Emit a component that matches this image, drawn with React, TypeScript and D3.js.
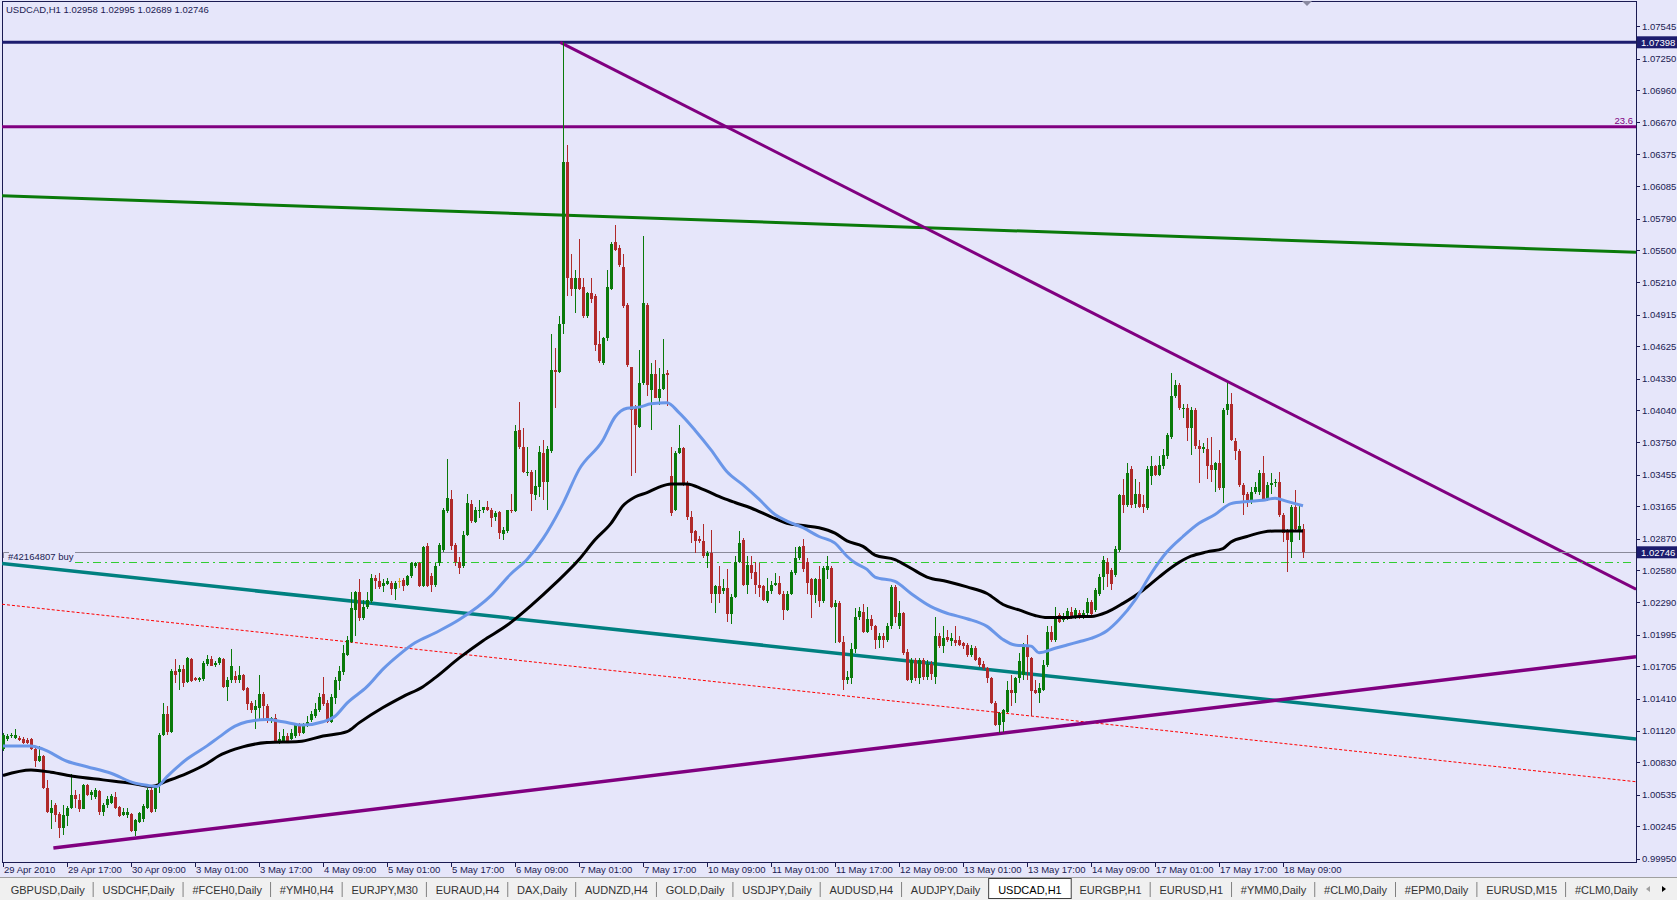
import React, { useMemo } from 'react';
import * as d3 from 'd3';

// ---------------- DATA ----------------
const headerText = 'USDCAD,H1  1.02958 1.02995 1.02689 1.02746';

// Hourly candles, [open, high, low, close] in pips (price * 10000)
const candles: number[][] = [
  [10095,10110,10093,10108],[10104,10109,10102,10107],[10107,10110,10105,10108],[10105,10113,10104,10108],
  [10105,10107,10102,10103],[10104,10106,10100,10101],[10103,10105,10100,10101],[10104,10105,10094,10095],
  [10095,10096,10079,10084],[10084,10098,10083,10089],[10089,10090,10059,10060],[10060,10067,10037,10038],
  [10037,10049,10022,10041],[10044,10046,10029,10035],[10036,10038,10014,10023],[10023,10044,10017,10035],
  [10034,10043,10025,10041],[10041,10072,10040,10053],[10053,10058,10041,10050],[10049,10054,10038,10040],
  [10040,10063,10040,10062],[10062,10063,10052,10053],[10053,10058,10049,10056],[10051,10060,10050,10058],
  [10057,10058,10035,10038],[10038,10046,10034,10044],[10044,10052,10041,10050],[10046,10054,10045,10052],
  [10051,10056,10040,10041],[10042,10043,10033,10034],[10035,10041,10034,10038],[10035,10041,10032,10038],
  [10036,10037,10019,10020],[10020,10031,10016,10030],[10029,10038,10028,10037],[10031,10045,10029,10043],
  [10041,10060,10040,10058],[10058,10061,10037,10038],[10040,10062,10038,10061],[10061,10110,10055,10108],
  [10108,10137,10107,10127],[10127,10134,10108,10111],[10111,10168,10110,10166],[10166,10177,10155,10163],
  [10165,10172,10149,10168],[10168,10172,10152,10155],[10156,10179,10155,10178],[10177,10178,10156,10157],
  [10160,10161,10157,10158],[10158,10161,10156,10160],[10159,10175,10157,10174],[10173,10181,10171,10177],
  [10177,10180,10171,10171],[10172,10175,10170,10174],[10174,10179,10172,10178],[10177,10178,10151,10152],
  [10152,10161,10139,10158],[10158,10186,10155,10171],[10162,10166,10155,10158],[10158,10171,10155,10163],
  [10163,10164,10148,10149],[10151,10152,10131,10136],[10137,10139,10128,10131],[10131,10140,10113,10134],
  [10133,10163,10122,10145],[10145,10147,10122,10134],[10134,10136,10119,10121],[10121,10124,10119,10123],
  [10123,10127,10101,10102],[10101,10111,10100,10104],[10102,10113,10101,10107],[10107,10110,10101,10102],
  [10104,10113,10103,10110],[10107,10119,10105,10117],[10117,10119,10107,10110],[10110,10119,10109,10117],
  [10117,10125,10115,10120],[10122,10130,10120,10127],[10125,10137,10123,10132],[10131,10146,10129,10143],
  [10145,10161,10134,10136],[10137,10140,10119,10120],[10120,10145,10119,10143],[10142,10161,10136,10158],
  [10157,10171,10149,10166],[10165,10190,10163,10183],[10181,10198,10180,10195],[10193,10238,10192,10224],
  [10222,10239,10198,10238],[10238,10250,10212,10215],[10215,10231,10213,10225],[10225,10238,10223,10231],
  [10230,10255,10228,10251],[10251,10254,10241,10248],[10248,10256,10241,10243],[10244,10250,10238,10247],
  [10246,10251,10245,10248],[10247,10248,10236,10241],[10241,10248,10231,10247],[10248,10251,10242,10248],
  [10249,10251,10239,10244],[10245,10254,10244,10253],[10253,10266,10251,10265],[10262,10266,10260,10265],
  [10265,10266,10243,10244],[10244,10280,10243,10279],[10280,10283,10243,10244],[10253,10256,10238,10245],
  [10245,10265,10243,10262],[10265,10283,10262,10281],[10277,10315,10275,10313],[10312,10360,10310,10324],
  [10323,10331,10277,10280],[10281,10283,10262,10266],[10266,10270,10255,10260],[10262,10294,10260,10290],
  [10290,10328,10289,10320],[10319,10322,10301,10303],[10302,10316,10301,10313],[10312,10322,10306,10313],
  [10313,10316,10310,10316],[10316,10321,10312,10313],[10313,10315,10298,10306],[10307,10312,10303,10310],
  [10311,10312,10287,10292],[10291,10298,10286,10295],[10294,10313,10292,10313],[10313,10328,10310,10312],
  [10312,10391,10311,10385],[10386,10412,10369,10371],[10371,10388,10347,10348],[10347,10371,10344,10348],
  [10348,10350,10312,10328],[10327,10350,10322,10335],[10334,10372,10325,10366],[10365,10377,10322,10339],
  [10339,10372,10313,10369],[10367,10474,10365,10441],[10441,10461,10406,10439],[10439,10490,10438,10483],
  [10483,10740,10474,10631],[10631,10646,10508,10525],[10525,10547,10508,10515],[10515,10532,10493,10525],
  [10525,10560,10514,10515],[10517,10525,10488,10490],[10490,10512,10488,10511],[10511,10525,10502,10506],
  [10508,10510,10458,10464],[10465,10476,10447,10449],[10447,10471,10445,10470],[10470,10532,10467,10517],
  [10515,10558,10514,10556],[10558,10573,10549,10550],[10552,10555,10535,10537],[10535,10547,10497,10499],
  [10500,10502,10444,10445],[10444,10444,10344,10404],[10406,10409,10347,10391],[10389,10459,10388,10429],
  [10429,10563,10427,10502],[10500,10502,10417,10427],[10423,10447,10386,10437],[10437,10450,10415,10415],
  [10415,10443,10409,10424],[10424,10469,10423,10437],[10438,10441,10408,10436],[10344,10371,10308,10310],
  [10313,10367,10312,10365],[10365,10391,10364,10370],[10370,10371,10335,10338],[10338,10340,10304,10307],
  [10307,10312,10283,10292],[10294,10295,10274,10285],[10287,10289,10283,10285],[10285,10300,10269,10271],
  [10271,10276,10260,10274],[10274,10295,10228,10237],[10237,10245,10219,10244],[10244,10262,10228,10237],
  [10239,10250,10237,10242],[10242,10259,10211,10218],[10218,10237,10209,10234],[10234,10271,10233,10266],
  [10266,10294,10265,10283],[10286,10288,10244,10245],[10245,10271,10237,10263],[10263,10271,10250,10256],
  [10257,10266,10237,10245],[10245,10265,10234,10242],[10244,10245,10230,10231],[10230,10251,10228,10239],
  [10239,10248,10237,10245],[10245,10256,10244,10247],[10247,10253,10236,10237],[10237,10239,10213,10222],
  [10222,10239,10221,10237],[10237,10258,10236,10257],[10256,10279,10254,10269],[10269,10280,10268,10279],
  [10280,10287,10257,10259],[10266,10269,10237,10247],[10250,10251,10215,10236],[10236,10251,10228,10250],
  [10250,10262,10225,10230],[10230,10262,10228,10260],[10258,10271,10250,10262],[10260,10262,10224,10225],
  [10225,10231,10192,10228],[10228,10230,10192,10193],[10193,10198,10149,10158],[10158,10166,10154,10161],
  [10160,10192,10154,10186],[10186,10224,10183,10216],[10216,10225,10213,10221],[10220,10227,10201,10202],
  [10202,10225,10201,10214],[10214,10217,10204,10207],[10207,10208,10186,10195],[10195,10201,10187,10198],
  [10198,10201,10187,10195],[10195,10210,10193,10207],[10207,10245,10205,10243],[10243,10245,10210,10216],
  [10207,10230,10205,10219],[10219,10220,10181,10183],[10184,10186,10157,10158],[10158,10178,10155,10176],
  [10176,10178,10157,10160],[10160,10178,10154,10176],[10176,10178,10158,10161],[10161,10176,10158,10173],
  [10173,10175,10158,10164],[10161,10216,10154,10198],[10198,10201,10187,10189],[10189,10207,10183,10196],
  [10197,10204,10193,10195],[10194,10201,10189,10196],[10195,10207,10189,10192],[10195,10198,10189,10190],
  [10192,10193,10186,10189],[10190,10192,10179,10181],[10181,10190,10179,10187],[10187,10189,10175,10176],
  [10178,10179,10170,10172],[10173,10175,10167,10169],[10169,10170,10155,10160],[10160,10161,10136,10137],
  [10137,10139,10116,10117],[10117,10129,10110,10128],[10120,10132,10111,10131],[10129,10157,10128,10149],
  [10149,10163,10134,10146],[10146,10161,10137,10160],[10160,10183,10155,10175],[10163,10192,10158,10189],
  [10189,10199,10158,10179],[10178,10179,10125,10148],[10149,10158,10145,10146],[10146,10155,10137,10151],
  [10149,10176,10148,10172],[10172,10207,10170,10202],[10202,10207,10193,10195],[10195,10225,10193,10216],
  [10217,10219,10210,10211],[10213,10219,10211,10216],[10214,10224,10213,10221],[10220,10225,10214,10216],
  [10216,10224,10214,10222],[10219,10222,10214,10215],[10216,10222,10214,10219],[10219,10233,10216,10229],
  [10229,10231,10216,10218],[10222,10242,10220,10240],[10237,10255,10235,10252],[10252,10271,10240,10268],
  [10266,10269,10243,10255],[10258,10260,10240,10246],[10254,10280,10252,10278],[10277,10328,10275,10327],
  [10327,10341,10310,10318],[10318,10356,10316,10347],[10351,10353,10315,10318],[10319,10341,10315,10328],
  [10328,10339,10315,10316],[10319,10327,10310,10316],[10315,10353,10313,10351],[10344,10362,10336,10353],
  [10353,10354,10344,10345],[10345,10362,10344,10354],[10353,10369,10351,10363],[10362,10383,10360,10382],
  [10380,10438,10378,10417],[10417,10432,10415,10427],[10427,10429,10404,10406],[10405,10410,10397,10406],
  [10406,10410,10376,10388],[10388,10407,10363,10404],[10404,10406,10369,10372],[10372,10377,10338,10369],
  [10369,10374,10365,10371],[10369,10379,10341,10353],[10354,10380,10339,10350],[10350,10357,10330,10356],
  [10356,10368,10331,10333],[10333,10406,10320,10404],[10404,10429,10400,10410],[10410,10420,10376,10377],
  [10376,10379,10359,10367],[10367,10369,10334,10336],[10336,10338,10309,10327],[10328,10330,10316,10322],
  [10322,10334,10319,10330],[10330,10339,10328,10334],[10330,10350,10327,10347],[10347,10362,10322,10322],
  [10322,10339,10321,10336],[10336,10347,10328,10338],[10338,10341,10334,10339],[10339,10348,10307,10309],
  [10309,10310,10284,10292],[10295,10296,10257,10286],[10284,10318,10269,10316],[10316,10331,10295,10296],
  [10294,10318,10286,10299],[10296,10300,10269,10275],
];

// Moving averages: [bar index, pips]
const blueMA: number[][] = [
  [0,10098],[7,10098],[10,10095],[16,10084],[21,10079],[27,10073],[33,10064],[36,10062],[38.5,10061],
  [41,10070],[46,10086],[51,10098],[54,10106],[58,10116],[61,10120],[66,10122],[70,10120],[75,10117],
  [80,10120],[83,10125],[86,10137],[91,10152],[95,10168],[99,10181],[103,10192],[108,10201],[114,10213],
  [122,10235],[127,10255],[131,10268],[135,10287],[140,10319],[144,10350],[150,10377],[153,10398],
  [156,10406],[159,10407],[162,10410],[166,10411],[169,10402],[173,10386],[177,10368],[181,10348],
  [185,10336],[189,10323],[193,10309],[196,10303],[200,10297],[204,10289],[208,10283],[211,10271],
  [213,10265],[216,10259],[218,10252],[223,10248],[227,10237],[232,10225],[236,10219],[241,10214],
  [246,10207],[250,10195],[253,10190],[257,10189],[259,10183],[263,10187],[266,10190],[269,10193],
  [272,10196],[276,10203],[279,10213],[283,10231],[287,10255],[291,10275],[295,10289],[299,10301],
  [303,10309],[307,10319],[311,10321],[315,10322],[318,10324],[321,10321],[325,10317],
];
const blackMA: number[][] = [
  [0,10071],[7,10076],[12,10074],[18,10070],[25,10067],[32,10064],[37,10061],[41,10066],[46,10073],
  [51,10082],[54,10089],[58,10095],[66,10101],[74,10102],[80,10107],[86,10111],[89,10119],[95,10133],
  [100,10143],[105,10152],[108,10160],[114,10178],[120,10194],[126,10208],[132,10226],[138,10246],
  [144,10268],[148,10286],[152,10301],[155,10317],[158,10325],[161,10329],[164,10334],[167,10337],
  [171,10337],[175,10332],[180,10324],[183,10320],[187,10315],[192,10307],[196,10301],[200,10299],
  [204,10297],[208,10292],[211,10285],[215,10280],[218,10272],[223,10268],[227,10260],[231,10252],
  [236,10248],[241,10243],[246,10237],[250,10227],[254,10222],[258,10217],[261,10215],[266,10215],
  [269,10216],[272,10216],[276,10220],[280,10228],[285,10240],[289,10252],[293,10263],[297,10271],
  [301,10275],[305,10278],[307,10284],[311,10289],[315,10293],[318,10294],[322,10294],[325,10294],
];

const timeLabels = [
  '29 Apr 2010','29 Apr 17:00','30 Apr 09:00','3 May 01:00','3 May 17:00','4 May 09:00','5 May 01:00',
  '5 May 17:00','6 May 09:00','7 May 01:00','7 May 17:00','10 May 09:00','11 May 01:00','11 May 17:00',
  '12 May 09:00','13 May 01:00','13 May 17:00','14 May 09:00','17 May 01:00','17 May 17:00','18 May 09:00',
];
const barsPerLabel = 16;

const priceTicks = [
  1.07545,1.0725,1.0696,1.0667,1.06375,1.06085,1.0579,1.055,1.0521,1.04915,1.04625,1.0433,1.0404,
  1.0375,1.03455,1.03165,1.0287,1.0258,1.0229,1.01995,1.01705,1.0141,1.0112,1.0083,1.00535,1.00245,0.9995,
];

const highLevel = 1.07398;
const fiboLevel = 1.06628;
const fiboText = '23.6';
const bidPrice = 1.02746;
const orderPrice = 1.02655;
const orderText = '#42164807 buy';

// trend lines: [bar index start, price start, bar index end, price end]
const greenTrend = [-0.25, 1.05999, 408.25, 1.05482];
const purpleDown = [139.3, 1.07398, 408.25, 1.02409];
const tealTrend = [-0.25, 1.02643, 408.25, 1.01043];
const redDotted = [-0.25, 1.02272, 408.25, 1.00653];
const purpleUp = [12.6, 1.00049, 408.25, 1.01794];

const tabs = [
  'GBPUSD,Daily','USDCHF,Daily','#FCEH0,Daily','#YMH0,H4','EURJPY,M30','EURAUD,H4','DAX,Daily',
  'AUDNZD,H4','GOLD,Daily','USDJPY,Daily','AUDUSD,H4','AUDJPY,Daily','USDCAD,H1','EURGBP,H1',
  'EURUSD,H1','#YMM0,Daily','#CLM0,Daily','#EPM0,Daily','EURUSD,M15','#CLM0,Daily',
];
const activeTab = 'USDCAD,H1';

// ---------------- STYLE ----------------
const W = 1677, H = 900;
const PL = 2, PR = 1636, PT = 1, PB = 862;
const BG = '#E6E6FA';
const FG = '#1B1B52';
const BULL = '#0A7A0A';
const BEAR = '#B02A2A';
const FONT = '"Liberation Sans", Arial, sans-serif';

function measure(text: string, font: string) {
  const c = document.createElement('canvas').getContext('2d')!;
  c.font = font;
  return c.measureText(text).width;
}

export default function App() {
  const x = d3.scaleLinear().domain([0, 408.25]).range([3, 1636]);
  const y = d3.scaleLinear().domain([0.9995, 1.07398]).range([858.8, 42.3]);
  const yp = (pips: number) => y(pips / 10000);

  const maLine = d3.line<number[]>()
    .x(d => x(d[0]))
    .y(d => yp(d[1]))
    .curve(d3.curveMonotoneX);

  const tabLayout = useMemo(() => {
    const font = `11px ${FONT}`;
    let cursor = 10.7;
    return tabs.map(t => {
      const w = measure(t, font);
      const item = { t, x: cursor, w };
      cursor += w + 17.8;
      return item;
    });
  }, []);

  const seg = (l: number[]) => ({ x1: x(l[0]), y1: y(l[1]), x2: x(l[2]), y2: y(l[3]) });

  return (
    <svg width={W} height={H} style={{ position: 'absolute', left: 0, top: 0, background: BG }}
      fontFamily={FONT}>
      <defs>
        <clipPath id="plot">
          <rect x={PL} y={PT} width={PR - PL} height={PB - PT} />
        </clipPath>
      </defs>
      <rect x={0} y={0} width={W} height={H} fill={BG} />

      {/* frame */}
      <rect x={PL + 0.5} y={PT + 0.5} width={PR - PL} height={PB - PT} fill="none" stroke={FG} strokeWidth={1} />

      {/* shift marker */}
      <path d="M1302,1 L1312,1 L1307,6 Z" fill="#8a8aa0" />

      <g clipPath="url(#plot)">
        {/* horizontal levels */}
        <line x1={PL} x2={PR} y1={y(highLevel)} y2={y(highLevel)} stroke="#1C1C6E" strokeWidth={3} />
        <line x1={PL} x2={PR} y1={y(fiboLevel)} y2={y(fiboLevel)} stroke="#800080" strokeWidth={3} />
        <text x={PR - 3} y={y(fiboLevel) - 3} textAnchor="end" fontSize={9.5} fill="#800080">{fiboText}</text>

        {/* trend lines */}
        <line {...seg(greenTrend)} stroke="#0A7A0A" strokeWidth={3} />
        <line {...seg(purpleDown)} stroke="#800080" strokeWidth={3} />
        <line {...seg(tealTrend)} stroke="#008080" strokeWidth={3.5} />
        <line {...seg(redDotted)} stroke="#FF0000" strokeWidth={1} strokeDasharray="3,2" />
        <line {...seg(purpleUp)} stroke="#800080" strokeWidth={3.5} />

        {/* bid and order lines */}
        <line x1={75} x2={PR} y1={Math.round(y(bidPrice)) + 0.5} y2={Math.round(y(bidPrice)) + 0.5} stroke="#8A8A9A" strokeWidth={1} />
        <line x1={75} x2={1632} y1={Math.round(y(orderPrice)) + 0.5} y2={Math.round(y(orderPrice)) + 0.5} stroke="#32CD32" strokeWidth={1} strokeDasharray="8,4,2,4" />
        <path d={`M3.5,${Math.round(y(bidPrice)) + 6} V${Math.round(y(bidPrice)) + 0.5} H9`} fill="none" stroke="#8A8A9A" />
        <text x={8} y={y(bidPrice) + 8} fontSize={9.5} fill={FG}>{orderText}</text>

        {/* candles */}
        <g shapeRendering="crispEdges">
          {candles.map((c, i) => {
            const [o, h, l, cl] = c;
            const cx = Math.round(x(i));
            const color = cl > o ? BULL : cl < o ? BEAR : '#DAA520';
            const top = Math.round(yp(Math.max(o, cl)));
            const bot = Math.round(yp(Math.min(o, cl)));
            return (
              <g key={i}>
                <rect x={cx} y={Math.round(yp(h))} width={1} height={Math.max(1, Math.round(yp(l)) - Math.round(yp(h)))} fill={color} />
                <rect x={cx - 1} y={top} width={3} height={Math.max(1, bot - top)} fill={color} />
              </g>
            );
          })}
        </g>

        {/* moving averages */}
        <path d={maLine(blackMA) || ''} fill="none" stroke="#000000" strokeWidth={3} />
        <path d={maLine(blueMA) || ''} fill="none" stroke="#6A96E8" strokeWidth={3} />
      </g>

      {/* header */}
      <text x={6} y={13} fontSize={9.5} fill={FG}>{headerText}</text>

      {/* price axis */}
      {priceTicks.map(v => (
        <g key={v}>
          <line x1={PR} x2={PR + 4} y1={Math.round(y(v)) + 0.5} y2={Math.round(y(v)) + 0.5} stroke={FG} />
          <text x={PR + 6} y={y(v) + 3.5} fontSize={9.5} fill={FG}>{v.toFixed(5)}</text>
        </g>
      ))}
      {[highLevel, bidPrice].map(v => (
        <g key={'box' + v}>
          <rect x={PR + 1} y={y(v) - 6} width={W - PR - 1} height={12} fill="#1C1C6E" />
          <text x={PR + 5} y={y(v) + 3.5} fontSize={9.5} fill="#FFFFFF">{v.toFixed(5)}</text>
        </g>
      ))}

      {/* time axis */}
      {timeLabels.map((t, k) => {
        const xi = Math.round(x(k * barsPerLabel));
        return (
          <g key={t}>
            <line x1={xi + 0.5} x2={xi + 0.5} y1={PB} y2={PB + 5} stroke={FG} />
            <text x={xi + 1} y={PB + 11} fontSize={9.5} fill={FG}>{t}</text>
          </g>
        );
      })}

      {/* tab bar */}
      <rect x={0} y={877} width={W} height={23} fill="#F0F0F0" />
      <line x1={0} x2={W} y1={877.5} y2={877.5} stroke="#A0A0A0" />
      {tabLayout.map((tb, k) => {
        const active = tb.t === activeTab;
        const nextActive = tabLayout[k + 1] && tabLayout[k + 1].t === activeTab;
        return (
          <g key={k}>
            {active && (
              <rect x={tb.x - 9.5} y={878.5} width={tb.w + 19} height={20} fill="#FFFFFF" stroke="#404040" />
            )}
            <text x={tb.x} y={894} fontSize={11} fill={active ? '#000' : '#333'}>{tb.t}</text>
            {!active && !nextActive && k < tabLayout.length - 1 && (
              <line x1={tb.x + tb.w + 8.5} x2={tb.x + tb.w + 8.5} y1={882} y2={897} stroke="#808080" />
            )}
          </g>
        );
      })}
      <path d="M1650,886 L1646,889 L1650,892 Z" fill="#A0A0A0" />
      <path d="M1662,886 L1666,889 L1662,892 Z" fill="#000" />
    </svg>
  );
}
